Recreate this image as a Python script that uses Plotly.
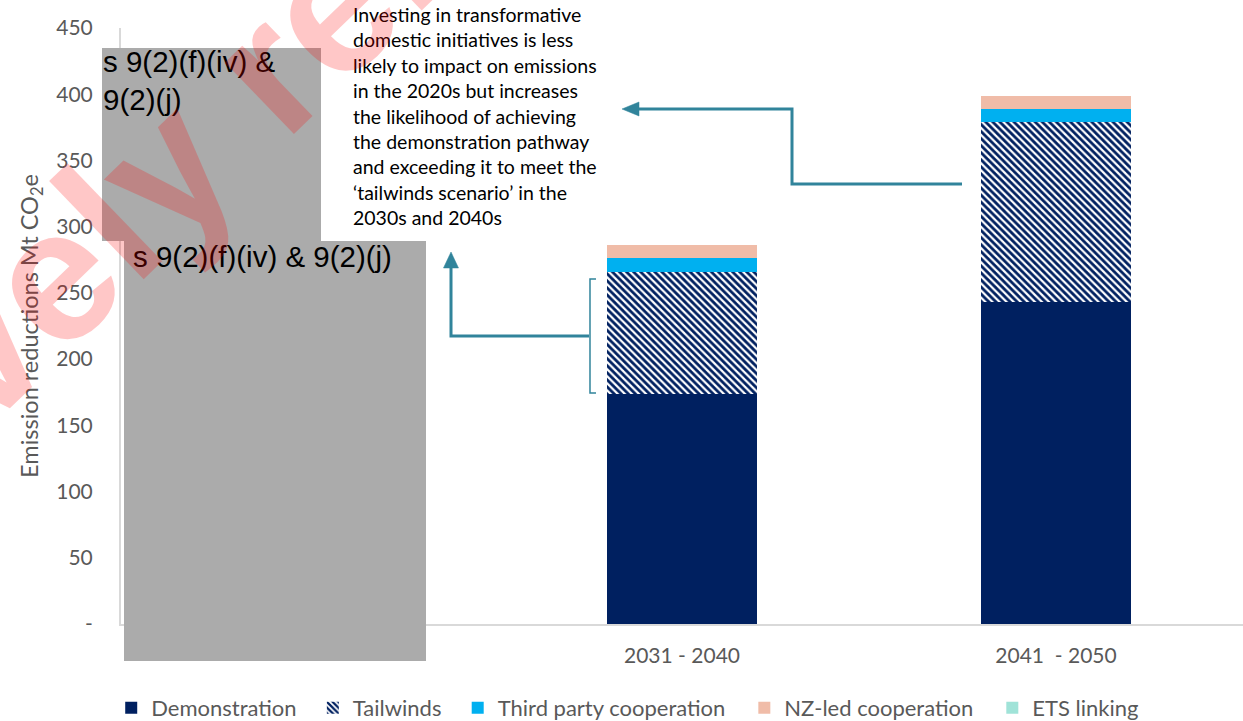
import plotly.graph_objects as go

# ---------------- data ----------------
categories = ["2021 - 2030", "2031 - 2040", "2041\u00a0 - 2050"]
category_labels = ["", "2031 - 2040", "2041\u00a0 - 2050"]
demonstration = [None, 174, 243]
tailwinds = [None, 92, 136]
third_party = [None, 10, 10]
nz_led = [None, 10, 10]
ets_linking = [None, 0, 0]

y_tickvals = [0, 50, 100, 150, 200, 250, 300, 350, 400, 450]
y_ticktext = ["-", "50", "100", "150", "200", "250", "300", "350", "400", "450"]

note_lines = [
    "Investing in transformative",
    "domestic initiatives is less",
    "likely to impact on emissions",
    "in the 2020s but increases",
    "the likelihood of achieving",
    "the demonstration pathway",
    "and exceeding it to meet the",
    "\u2018tailwinds scenario\u2019 in the",
    "2030s and 2040s",
]
redact_text = "s 9(2)(f)(iv) & 9(2)(j)"
redact_text_wrapped = "s 9(2)(f)(iv) &<br>9(2)(j)"
watermark = "Proactively released"

# ---------------- figure geometry helpers (pixel -> paper) ----------------
W, H = 1243, 721
ML, MR, MT, MB = 121, 0, 28, 97
PW, PH = W - ML - MR, H - MT - MB


def px(x):
    return (x - ML) / PW


def py(y):
    return (H - MB - y) / PH


NAVY = "#002060"
GREY_TXT = "#595959"
ARROW = "#31849B"
PAD = "\u00a0" * 2

fig = go.Figure()
fig.add_trace(go.Bar(name="Demonstration" + PAD, x=categories, y=demonstration,
                     marker=dict(color=NAVY, line=dict(width=0))))
fig.add_trace(go.Bar(name="Tailwinds" + PAD, x=categories, y=tailwinds,
                     marker=dict(color="white", line=dict(width=0),
                                 pattern=dict(shape="\\", fgcolor=NAVY, bgcolor="white",
                                              size=5, solidity=0.55, fillmode="replace"))))
fig.add_trace(go.Bar(name="Third party cooperation" + PAD + "\u2009", x=categories, y=third_party,
                     marker=dict(color="#00B0F0", line=dict(width=0))))
fig.add_trace(go.Bar(name="NZ-led cooperation" + PAD + "\u2009", x=categories, y=nz_led,
                     marker=dict(color="#F0BCA8", line=dict(width=0))))
fig.add_trace(go.Bar(name="ETS linking", x=categories, y=ets_linking,
                     marker=dict(color="#A0E3D8", line=dict(width=0))))

shapes = []
# redaction boxes
shapes.append(dict(type="rect", xref="paper", yref="paper", layer="above",
                   x0=px(124), x1=px(426), y0=py(661), y1=py(241),
                   fillcolor="#ABABAB", line=dict(width=0)))
shapes.append(dict(type="rect", xref="paper", yref="paper", layer="above",
                   x0=px(102), x1=px(321), y0=py(241), y1=py(48),
                   fillcolor="#ABABAB", line=dict(width=0)))


def path(points):
    return "M " + " L ".join(f"{px(a):.5f},{py(b):.5f}" for a, b in points)


# lower arrow: bracket -> up arrow
shapes.append(dict(type="path", xref="paper", yref="paper", layer="above",
                   path=path([(596, 279), (590, 279), (590, 393), (596, 393)]),
                   line=dict(color=ARROW, width=1.5)))
shapes.append(dict(type="path", xref="paper", yref="paper", layer="above",
                   path=path([(589, 336), (451, 336), (451, 264)]),
                   line=dict(color=ARROW, width=3)))
shapes.append(dict(type="path", xref="paper", yref="paper", layer="above",
                   path=path([(451, 252), (458.5, 268), (443.5, 268)]) + " Z",
                   fillcolor=ARROW, line=dict(color=ARROW, width=0.5)))
# upper arrow: right bar -> left arrow
shapes.append(dict(type="path", xref="paper", yref="paper", layer="above",
                   path=path([(962, 184), (792, 184), (792, 109), (634, 109)]),
                   line=dict(color=ARROW, width=3)))
shapes.append(dict(type="path", xref="paper", yref="paper", layer="above",
                   path=path([(622, 109), (639, 102), (639, 116)]) + " Z",
                   fillcolor=ARROW, line=dict(color=ARROW, width=0.5)))

annotations = []
# note text, one annotation per line
for i, line in enumerate(note_lines):
    baseline = 20.7 + i * 25.45
    annotations.append(dict(xref="paper", yref="paper", x=px(351), y=py(baseline - 6.5),
                            xanchor="left", yanchor="middle", showarrow=False, text=line,
                            font=dict(family="Lato", size=19.5, color="black")))
# redaction text
annotations.append(dict(xref="paper", yref="paper", x=px(101), y=py(43), xanchor="left",
                        yanchor="top", align="left", showarrow=False, text=redact_text_wrapped,
                        font=dict(family="Liberation Sans", size=29.5, color="black")))
annotations.append(dict(xref="paper", yref="paper", x=px(131), y=py(238), xanchor="left",
                        yanchor="top", align="left", showarrow=False, text=redact_text,
                        font=dict(family="Liberation Sans", size=29.5, color="black")))
# watermark
annotations.append(dict(xref="paper", yref="paper", x=px(134), y=py(198), xanchor="center",
                        yanchor="middle", showarrow=False, text=watermark, textangle=-44,
                        font=dict(family="Liberation Sans", size=188, weight="bold",
                                  color="rgba(255,0,0,0.22)")))

fig.update_layout(
    width=W, height=H,
    margin=dict(l=ML, r=MR, t=MT, b=MB, autoexpand=False),
    barmode="stack", bargap=0.6,
    plot_bgcolor="white", paper_bgcolor="white",
    font=dict(family="Lato", color=GREY_TXT, size=20),
    showlegend=True,
    legend=dict(orientation="h", xref="container", x=0.505, xanchor="center",
                yref="container", y=(H - 708) / H, yanchor="middle",
                font=dict(family="Lato", size=22, color=GREY_TXT),
                traceorder="normal", itemclick=False),
    xaxis=dict(type="category", range=[-0.5, 2.5], showgrid=False, zeroline=False,
               showline=True, linecolor="#D9D9D9", linewidth=2, ticks="",
               tickvals=categories, ticktext=category_labels,
               tickfont=dict(family="Lato", size=21, color=GREY_TXT), ticklabelstandoff=12),
    yaxis=dict(range=[0, 450], tickvals=y_tickvals, ticktext=y_ticktext, showgrid=False,
               zeroline=False, showline=True, linecolor="#D9D9D9", linewidth=2, ticks="",
               tickfont=dict(family="Lato", size=21, color=GREY_TXT), ticklabelstandoff=22,
               title=dict(text="Emission reductions Mt CO<sub>2</sub>e", standoff=11,
                          font=dict(family="Lato", size=23.5, color=GREY_TXT))),
    shapes=shapes,
    annotations=annotations,
)

fig.write_html("out.html", config={"displayModeBar": False},
               post_script="document.body.style.margin='0';document.body.style.overflow='hidden';")
